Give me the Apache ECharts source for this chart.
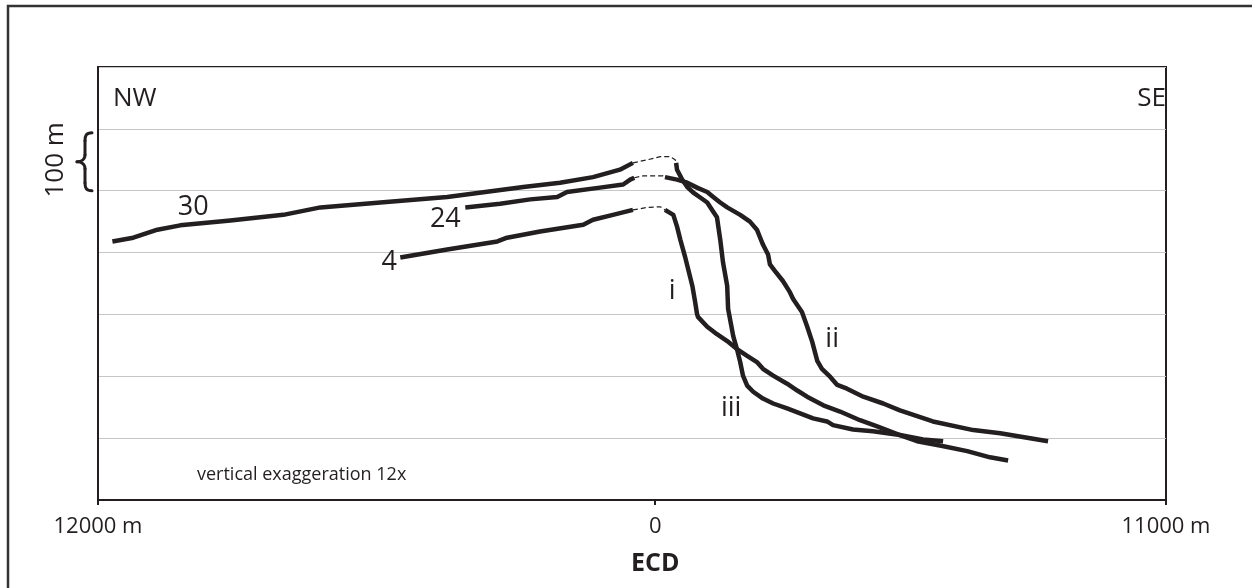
<!DOCTYPE html>
<html>
<head>
<meta charset="utf-8">
<script src="https://cdn.jsdelivr.net/npm/echarts@6/dist/echarts.min.js"></script>
<style>
  html, body { margin: 0; padding: 0; background: #ffffff; }
  #chart { width: 1252px; height: 588px; }
</style>
</head>
<body>
<div id="chart"></div>
<script>
// Cross-section across the ECD: distance along section in metres (NW negative, SE positive)
// against relative elevation in metres (vertical exaggeration 12x).

// NW flank profiles
const profile30 = [[-11690,418],[-11240,424],[-10720,437],[-10230,444],[-9150,452],[-8010,461],[-7210,473],[-5920,481],[-4480,490],[-2840,506],[-2050,513],[-1340,522],[-760,534],[-480,545]];
const profile24 = [[-4090,473],[-3340,479],[-2690,486],[-2110,490],[-1900,498],[-1190,505],[-690,510],[-540,518],[-450,521]];
const profile4  = [[-5490,392],[-4480,405],[-3400,418],[-3190,424],[-2480,434],[-1550,445],[-1340,453],[-910,461],[-480,469]];

// Inferred crest segments (dashed)
const crest30 = [[-480,545],[-170,550],[110,555],[320,555],[430,550],[450,545]];
const crest24 = [[-450,521],[-260,524],[170,524],[210,522]];
const crest4  = [[-480,469],[-170,473],[110,474],[210,469]];

// SE flank profiles
const curveI   = [[210,469],[390,461],[470,442],[540,421],[640,394],[710,373],[800,346],[860,320],[900,301],[920,296],[1120,280],[1330,268],[1550,257],[1760,244],[1980,233],[2190,223],[2320,212],[2540,201],[2840,188],[3060,177],[3270,167],[3620,153],[3980,143],[4410,129],[4780,119],[5270,105],[5640,95],[6130,88],[6720,79],[7210,69],[7600,64]];
const curveII  = [[210,522],[470,518],[690,513],[900,505],[1120,498],[1250,490],[1400,481],[1550,473],[1830,461],[2040,450],[2190,437],[2260,424],[2320,413],[2430,397],[2470,381],[2580,370],[2750,354],[2900,336],[2970,325],[3160,304],[3270,281],[3380,256],[3490,225],[3590,212],[3770,199],[3920,186],[4130,180],[4480,167],[4910,156],[5270,145],[5980,127],[6850,113],[7430,108],[8460,95]];
const curveIII = [[450,545],[470,534],[580,518],[690,506],[820,497],[970,489],[1120,481],[1250,466],[1330,457],[1400,421],[1460,384],[1550,346],[1570,309],[1680,265],[1760,244],[1830,223],[1890,201],[1980,185],[2110,175],[2320,164],[2540,156],[2840,148],[3120,140],[3400,132],[3700,127],[3830,121],[4260,114],[4690,111],[5270,105],[5770,98],[6200,95]];

// Profile annotations (name, distance, elevation)
const profileLabels = [['30',-9950,473],['24',-4520,453],['4',-5730,384],['i',365,338],['ii',3810,259],['iii',1635,148]];

// Axis ticks
const xTicks = [-12000, 0, 11000];
const yMin = 0, yMax = 700, yStep = 100;

const INK = '#231f20';
const FONT = '"Open Sans", "Noto Sans", sans-serif';

const solid = (name, data) => ({
  name, type: 'line', data, showSymbol: false, symbol: 'none', silent: true,
  lineStyle: { color: INK, width: 4.5, cap: 'butt', join: 'round' }, z: 3
});
const dashed = (name, data) => ({
  name, type: 'line', data, showSymbol: false, symbol: 'none', silent: true,
  lineStyle: { color: INK, width: 1.2, type: [5, 3] }, z: 2
});

const chart = echarts.init(document.getElementById('chart'), null, { renderer: 'canvas' });

chart.setOption({
  animation: false,
  backgroundColor: '#ffffff',
  textStyle: { fontFamily: FONT },
  grid: { left: 98, right: 86, top: 67, bottom: 86, show: true, borderColor: INK, borderWidth: 2, backgroundColor: 'transparent' },
  xAxis: {
    type: 'value', min: -12000, max: 11000,
    axisLine: { show: true, onZero: false, lineStyle: { color: INK, width: 2 } },
    axisTick: { show: true, customValues: xTicks, length: 5, lineStyle: { color: INK, width: 2 } },
    axisLabel: {
      customValues: xTicks, margin: 14, color: INK, fontFamily: FONT, fontSize: 22, lineHeight: 26,
      formatter: v => v === 0 ? '{n|0}\n{e|ECD}' : Math.abs(v) + ' m',
      rich: {
        n: { fontSize: 22, lineHeight: 26, color: INK, fontFamily: FONT },
        e: { fontSize: 25, fontWeight: 'bold', lineHeight: 48, color: INK, fontFamily: FONT }
      }
    },
    splitLine: { show: false }
  },
  yAxis: {
    type: 'value', min: yMin, max: yMax, interval: yStep,
    axisLine: { show: true, onZero: false, lineStyle: { color: INK, width: 2 } },
    axisTick: { show: false },
    axisLabel: { show: false },
    splitLine: { show: true, lineStyle: { color: '#c6c6c6', width: 1 } }
  },
  series: [
    dashed('crest 30', crest30), dashed('crest 24', crest24), dashed('crest 4', crest4),
    solid('30', profile30), solid('24', profile24), solid('4', profile4),
    solid('i', curveI), solid('ii', curveII), solid('iii', curveIII)
  ]
});

// Profile names placed at their data positions
const labelGraphics = profileLabels.map(([n, x, y]) => {
  const [px, py] = chart.convertToPixel({ gridIndex: 0 }, [x, y]);
  return { type: 'text', silent: true, x: px, y: py, z: 10,
    style: { text: n, fill: INK, fontFamily: FONT, fontSize: 27, align: 'center', verticalAlign: 'middle' } };
});

// Scale brace for 100 m, spanning two adjacent grid levels
const yTop = chart.convertToPixel({ yAxisIndex: 0 }, 600) + 4;
const yBot = chart.convertToPixel({ yAxisIndex: 0 }, 500);
const yMid = (yTop + yBot) / 2;
const bx = 92, bIn = 85, bTip = 77;
const braceStyle = { fill: 'none', stroke: INK, lineWidth: 3, lineCap: 'round' };
const curve = (x1, y1, cx1, cy1, cx2, cy2, x2, y2) => ({
  type: 'bezierCurve', silent: true,
  shape: { x1, y1, cpx1: cx1, cpy1: cy1, cpx2: cx2, cpy2: cy2, x2, y2 }, style: braceStyle
});
const seg = (x1, y1, x2, y2) => ({ type: 'line', silent: true, shape: { x1, y1, x2, y2 }, style: braceStyle });
const brace = [
  curve(bx, yTop, bIn + 1, yTop, bIn, yTop + 3, bIn, yTop + 8),
  seg(bIn, yTop + 8, bIn, yMid - 7),
  curve(bIn, yMid - 7, bIn, yMid - 2, bTip + 4, yMid, bTip, yMid),
  curve(bTip, yMid, bTip + 4, yMid, bIn, yMid + 2, bIn, yMid + 7),
  seg(bIn, yMid + 7, bIn, yBot - 8),
  curve(bIn, yBot - 8, bIn, yBot - 3, bIn + 1, yBot, bx, yBot)
];

chart.setOption({
  graphic: [
    { type: 'rect', silent: true, shape: { x: 8, y: 6, width: 1270, height: 620 },
      style: { fill: 'none', stroke: '#333333', lineWidth: 2.5 }, z: 100 },
    { type: 'text', silent: true, x: 113, y: 99,
      style: { text: 'NW', fill: INK, fontFamily: FONT, fontSize: 26, align: 'left', verticalAlign: 'middle' } },
    { type: 'text', silent: true, x: 1166, y: 99,
      style: { text: 'SE', fill: INK, fontFamily: FONT, fontSize: 26, align: 'right', verticalAlign: 'middle' } },
    { type: 'text', silent: true, x: 197, y: 475,
      style: { text: 'vertical exaggeration 12x', fill: INK, fontFamily: FONT, fontSize: 18, align: 'left', verticalAlign: 'middle' } },
    { type: 'text', silent: true, x: 56, y: yMid - 2, rotation: Math.PI / 2,
      style: { text: '100 m', fill: INK, fontFamily: FONT, fontSize: 26, align: 'center', verticalAlign: 'middle' } },
    ...brace,
    ...labelGraphics
  ]
});
</script>
</body>
</html>
